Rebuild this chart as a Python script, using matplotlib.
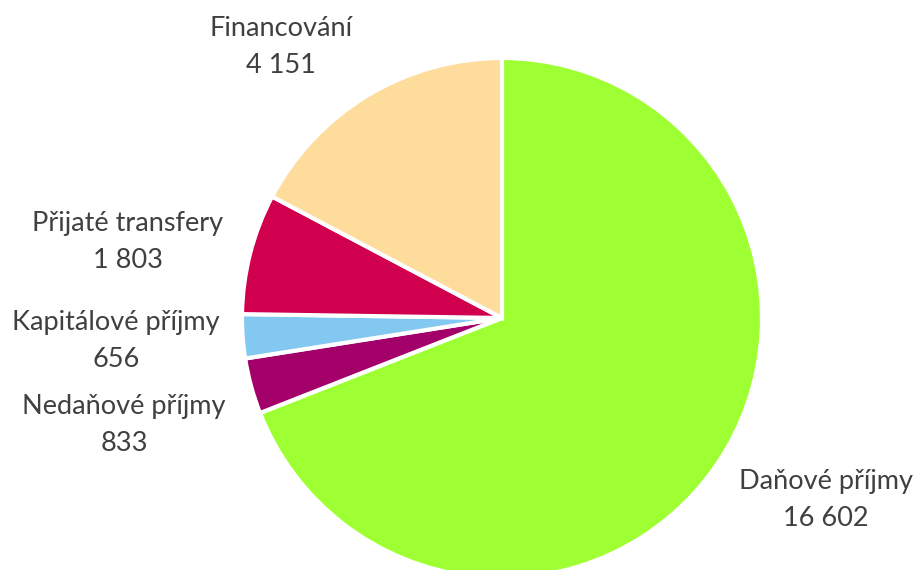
import matplotlib
matplotlib.use("Agg")
import matplotlib.pyplot as plt

# data (clockwise from 12 o'clock)
categories = ["Daňové příjmy", "Nedaňové příjmy", "Kapitálové příjmy",
              "Přijaté transfery", "Financování"]
values = [16602, 833, 656, 1803, 4151]
colors = ["#9EFF33", "#A3006A", "#82C8F0", "#D0004E", "#FEDC9C"]

# label centres in pixel space (x, y from top)
label_pos = [(826, 500), (124, 425), (116, 341), (128, 242), (281, 47)]


def fmt(v: int) -> str:
    return f"{v:,}".replace(",", " ")


W, H = 916, 570
fig = plt.figure(figsize=(W / 100, H / 100), dpi=100)
ax = fig.add_axes([0, 0, 1, 1])
ax.set_xlim(0, W)
ax.set_ylim(0, H)
ax.set_aspect("equal")
ax.axis("off")

ax.pie(values, colors=colors, startangle=90, counterclock=False,
       center=(502, H - 318), radius=260,
       wedgeprops=dict(edgecolor="white", linewidth=3))
ax.set_xlim(0, W)
ax.set_ylim(0, H)

for name, v, (x, y) in zip(categories, values, label_pos):
    ax.text(x, H - y, f"{name}\n{fmt(v)}", ha="center", va="center",
            fontsize=19.5, family="Lato", color="#404040", linespacing=1.6)

fig.savefig("out.png", dpi=100)
